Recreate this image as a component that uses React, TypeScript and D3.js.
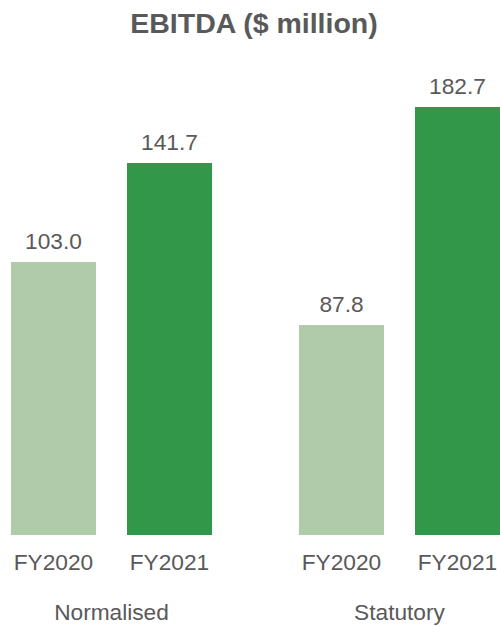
import React from "react";
import * as d3 from "d3";

const groups = ["Normalised", "Statutory"];
const years = ["FY2020", "FY2021"];
const normalisedValues = [103.0, 141.7];
const statutoryValues = [87.8, 182.7];
const valueLabels = [["103.0", "141.7"], ["87.8", "182.7"]];
const yearColors = ["#AFCBAA", "#33974A"];

const W = 500;
const H = 626;

export default function App() {
  const seriesByGroup = [normalisedValues, statutoryValues];
  const gx = d3.scaleBand<string>().domain(groups).range([11, 500]).paddingInner(0.302).paddingOuter(0);
  const ix = d3.scaleBand<string>().domain(years).range([0, gx.bandwidth()]).paddingInner(0.267).paddingOuter(0);
  // each panel has its own value scale (as in the source)
  const yScales = [
    d3.scaleLinear().domain([-3.7, 141.7]).range([535, 163]),
    d3.scaleLinear().domain([-3.6, 182.7]).range([535, 107]),
  ];
  const font = "Arial, 'Liberation Sans', sans-serif";
  return (
    <svg width={W} height={H} style={{ position: "absolute", left: 0, top: 0, background: "#fff" }} fontFamily={font}>
      <text x={254} y={33} textAnchor="middle" fontSize={28.5} fontWeight="bold" fill="#595959">
        EBITDA ($ million)
      </text>
      {groups.map((g, gi) => {
        const y = yScales[gi];
        const vals = seriesByGroup[gi];
        const g0 = gx(g) as number;
        const bw = ix.bandwidth();
        return (
          <g key={g}>
            {years.map((yr, i) => {
              const x = g0 + (ix(yr) as number);
              const top = y(vals[i]);
              const base = y(y.domain()[0]);
              return (
                <g key={yr}>
                  <rect x={x} y={top} width={bw} height={base - top} fill={yearColors[i]} />
                  <text x={x + bw / 2} y={top - 13} textAnchor="middle" fontSize={22.7} fill="#595959">
                    {valueLabels[gi][i]}
                  </text>
                  <text x={x + bw / 2} y={570} textAnchor="middle" fontSize={22.7} fill="#595959">
                    {yr}
                  </text>
                </g>
              );
            })}
            <text x={g0 + gx.bandwidth() / 2} y={620} textAnchor="middle" fontSize={22.7} fill="#595959">
              {g}
            </text>
          </g>
        );
      })}
    </svg>
  );
}
